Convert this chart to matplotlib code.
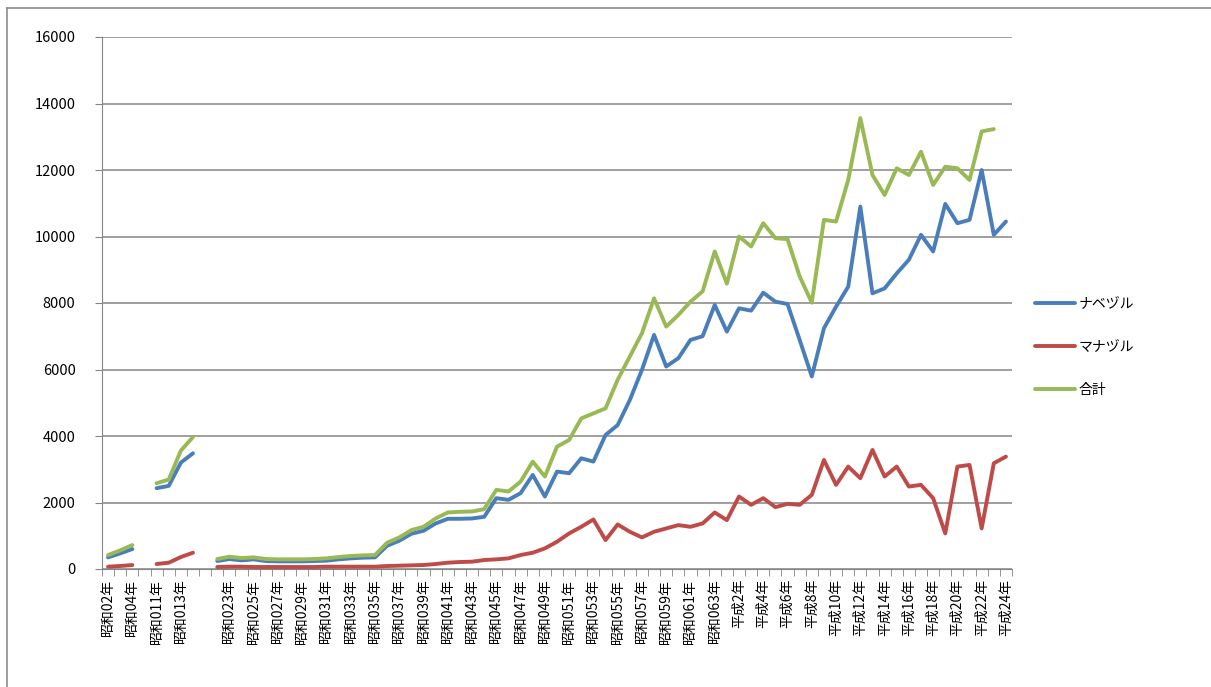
import numpy as np
import matplotlib
matplotlib.use("Agg")
import matplotlib.pyplot as plt
from matplotlib.lines import Line2D

plt.rcParams['font.family'] = ['Noto Sans CJK JP', 'DejaVu Sans']

nan = np.nan

# 年次（空欄は区切り行）
years = (["昭和02年", "昭和03年", "昭和04年", "",
          "昭和011年", "昭和012年", "昭和013年", "昭和014年", ""]
         + [f"昭和0{y}年" for y in range(22, 64)]
         + ["平成元年"] + [f"平成{y}年" for y in range(2, 25)])

naberu = [350, 470, 600, nan, 2430, 2500, 3200, 3480, nan,
          240, 300, 260, 290, 240, 230, 230, 230, 240, 250, 290,
          320, 340, 350, 700, 850, 1060, 1150, 1370, 1510, 1510,
          1520, 1570, 2130, 2080, 2280, 2830, 2180, 2930, 2880, 3330,
          3230, 4030, 4330, 5080, 5990, 7040, 6090, 6340, 6890, 7000,
          7940, 7140, 7840, 7770, 8310, 8040, 7970, 6890, 5790, 7240,
          7890, 8490,
          10900, 8290, 8440, 8890, 9300, 10050, 9550, 10980, 10400, 10500,
          12000, 10050, 10450]

manazuru = [70, 90, 120, nan, 150, 190, 360, 490, nan,
            60, 70, 70, 60, 60, 60, 60, 60, 60, 70, 70,
            70, 70, 70, 90, 100, 110, 120, 150, 190, 210,
            220, 270, 290, 320, 420, 490, 620, 820, 1070, 1270,
            1490, 870, 1340, 1120, 950, 1120, 1220, 1320, 1270, 1370,
            1700, 1470, 2180, 1930, 2130, 1860, 1960, 1930, 2230, 3280,
            2530, 3080,
            2730, 3580, 2780, 3080, 2480, 2530, 2130, 1070, 3080, 3130,
            1220, 3180, 3380]

goukei = [420, 560, 720, nan, 2580, 2690, 3560, 3970, nan,
          300, 370, 330, 350, 300, 290, 290, 290, 300, 320, 360,
          390, 410, 420, 790, 950, 1170, 1270, 1520, 1700, 1720,
          1730, 1800, 2380, 2330, 2630, 3230, 2780, 3680, 3880, 4530,
          4680, 4830, 5690, 6390, 7090, 8140, 7290, 7640, 8040, 8350,
          9550, 8580, 10000, 9700, 10400, 9950, 9920, 8800, 8010, 10500,
          10450, 11700,
          13560, 11850, 11250, 12050, 11850, 12550, 11550, 12100, 12050, 11700,
          13160, 13230, nan]

series = [("ナベヅル", naberu, "#4A7EBB"),
          ("マナヅル", manazuru, "#BE4B48"),
          ("合計", goukei, "#98B954")]

fig = plt.figure(figsize=(12.11, 6.87), dpi=100)
ax = fig.add_axes([102 / 1211, 1 - 569 / 687, 910 / 1211, 532 / 687])

x = np.arange(len(years))
for name, vals, color in series:
    ax.plot(x, vals, color=color, lw=2.8, label=name,
            solid_joinstyle='round', solid_capstyle='round')

ax.set_xlim(-0.5, len(years) - 0.5)
ax.set_ylim(0, 16000)
ax.set_yticks(np.arange(0, 16001, 2000))
ax.yaxis.grid(True, color='#858585', lw=1.1)
ax.set_axisbelow(True)

# 目盛り線は区切りに、ラベルは一つおき
ax.set_xticks(x[::2])
ax.set_xticklabels(years[::2], rotation=90, fontsize=10, va='top', ha='center')
ax.set_xticks(np.arange(-0.5, len(years)), minor=True)
ax.tick_params(axis='x', which='major', length=0, pad=7)
ax.tick_params(axis='x', which='minor', length=5, color='#858585', direction='out')
ax.tick_params(axis='y', length=5, color='#858585', labelsize=10.5, pad=14)

for side in ['top', 'right']:
    ax.spines[side].set_visible(False)
ax.spines['left'].set_color('#858585')
ax.spines['bottom'].set_color('#858585')

ax.legend(loc='center left', bbox_to_anchor=(1022 / 1211, 1 - 347 / 687),
          bbox_transform=fig.transFigure, frameon=False, fontsize=10,
          handlelength=2.9, handletextpad=0.25, labelspacing=2.1)

# グラフエリアの枠線
fig.add_artist(Line2D([7 / 1211, 1.0], [1 - 8 / 687] * 2, transform=fig.transFigure,
                      color='#8c8c8c', lw=1.2))
fig.add_artist(Line2D([7 / 1211] * 2, [0.0, 1 - 8 / 687], transform=fig.transFigure,
                      color='#8c8c8c', lw=1.2))

fig.savefig("out.png", dpi=100)
